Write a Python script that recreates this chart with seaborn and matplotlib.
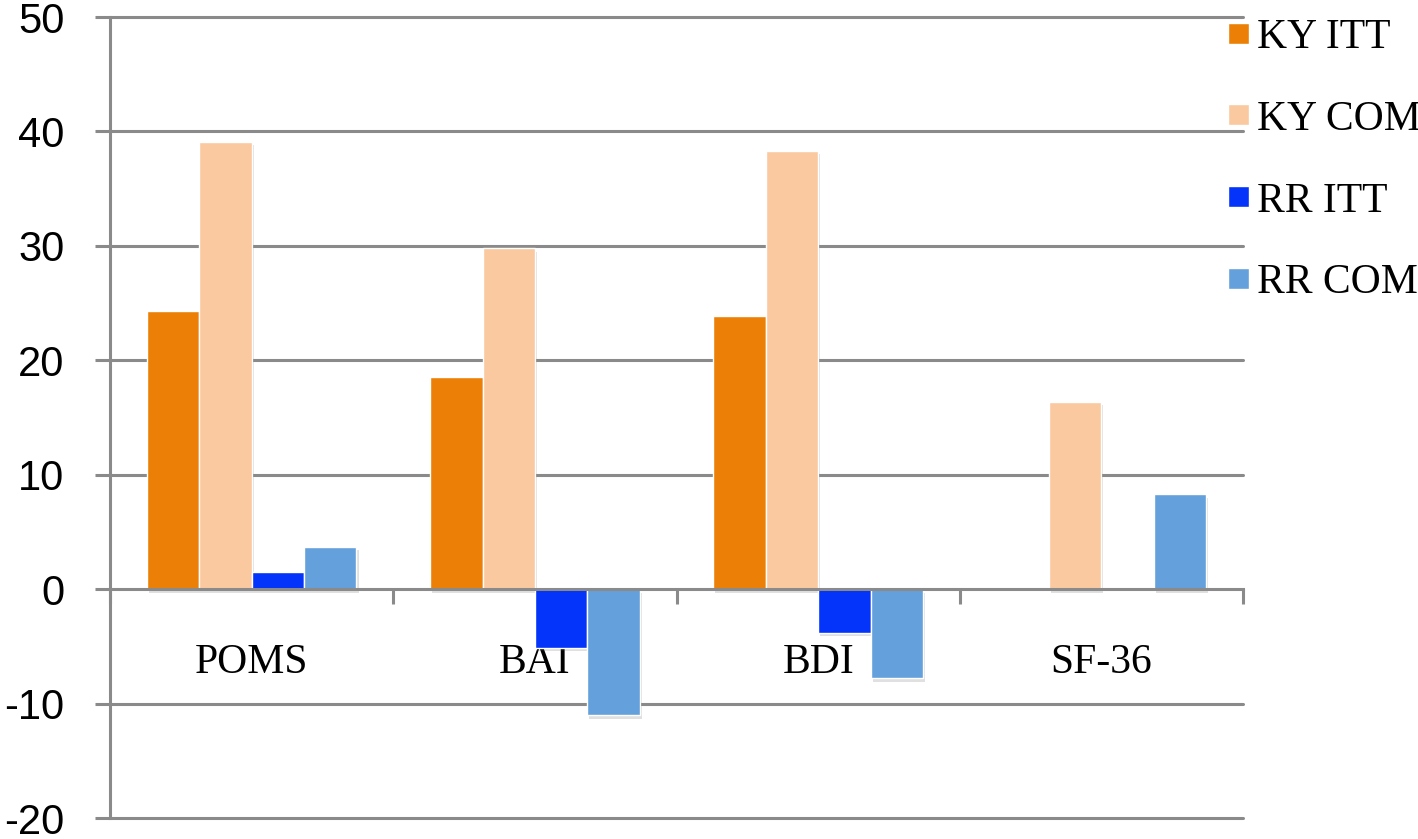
import seaborn as sns
import matplotlib.pyplot as plt
import matplotlib.patheffects as pe
import numpy as np
import pandas as pd

# values
scales = ['POMS', 'BAI', 'BDI', 'SF-36']
groups = ['KY ITT', 'KY COM', 'RR ITT', 'RR COM']
ky_itt = [24.3, 18.5, 23.9, np.nan]
ky_com = [39.1, 29.8, 38.3, 16.4]
rr_itt = [1.5, -5.1, -3.8, np.nan]
rr_com = [3.7, -11.0, -7.8, 8.3]
colors = ['#EC8006', '#FBC9A0', '#0433FA', '#64A0DC']
yticks = [-20, -10, 0, 10, 20, 30, 40, 50]

df = pd.DataFrame({
    'scale': scales * 4,
    'group': [g for g in groups for _ in scales],
    'value': ky_itt + ky_com + rr_itt + rr_com
})

sns.set_style('white')
plt.rcParams['font.family'] = ['Liberation Sans', 'DejaVu Sans']
plt.rcParams['text.color'] = 'black'
plt.rcParams['xtick.labelcolor'] = 'black'
plt.rcParams['ytick.labelcolor'] = 'black'

grid_col = '#8a8a8a'
lw = 2.2

fig = plt.figure(figsize=(14.18, 8.39), dpi=100)
ax = fig.add_axes([0.0776, 0.025, 0.799, 0.9547])

sns.barplot(x='scale', y='value', hue='group', data=df, order=scales,
            hue_order=groups, palette=colors, width=0.74, errorbar=None,
            saturation=1, ax=ax, zorder=3)

for p in ax.patches:
    p.set_path_effects([pe.SimplePatchShadow(offset=(1.5, -2.5), shadow_rgbFace='#555555', alpha=0.18),
                        pe.Normal()])

ax.set_xlim(-0.5, 3.5)
ax.set_ylim(-20, 50)
ax.set_yticks(yticks)
ax.set_yticklabels([str(v) for v in yticks], fontsize=30, family='Liberation Sans', color='black')
for v in yticks:
    if v != 0:
        ax.axhline(v, color=grid_col, lw=lw, zorder=1, clip_on=False)

for s in ['top', 'right']:
    ax.spines[s].set_visible(False)
ax.spines['left'].set_color(grid_col)
ax.spines['left'].set_linewidth(lw)
ax.spines['bottom'].set_position(('data', 0))
ax.spines['bottom'].set_color(grid_col)
ax.spines['bottom'].set_linewidth(lw)
ax.spines['bottom'].set_zorder(4)

ax.tick_params(axis='y', length=11, width=lw, color=grid_col, direction='out', pad=22, left=True)
ax.set_xticks(range(len(scales)))
ax.set_xticklabels(scales, fontsize=30, family='Liberation Serif', color='black')
ax.set_xticks(np.arange(-0.5, 4.0, 1.0), minor=True)
ax.tick_params(axis='x', which='major', length=0, pad=39, bottom=True)
ax.tick_params(axis='x', which='minor', length=11, width=lw, color=grid_col, direction='out', bottom=True)
ax.set_xlabel('')
ax.set_ylabel('')

old = ax.get_legend()
handles = old.legend_handles
labels = [t.get_text() for t in old.texts]
old.remove()
ax.legend(handles, labels, loc='upper left', bbox_to_anchor=(0.866, 0.978),
          bbox_transform=fig.transFigure, frameon=False, borderpad=0, borderaxespad=0,
          prop={'family': 'Liberation Serif', 'size': 30}, handlelength=0.5,
          handleheight=0.4, handletextpad=0.2, labelspacing=1.04, labelcolor='black')

plt.savefig('out.png', dpi=100)
